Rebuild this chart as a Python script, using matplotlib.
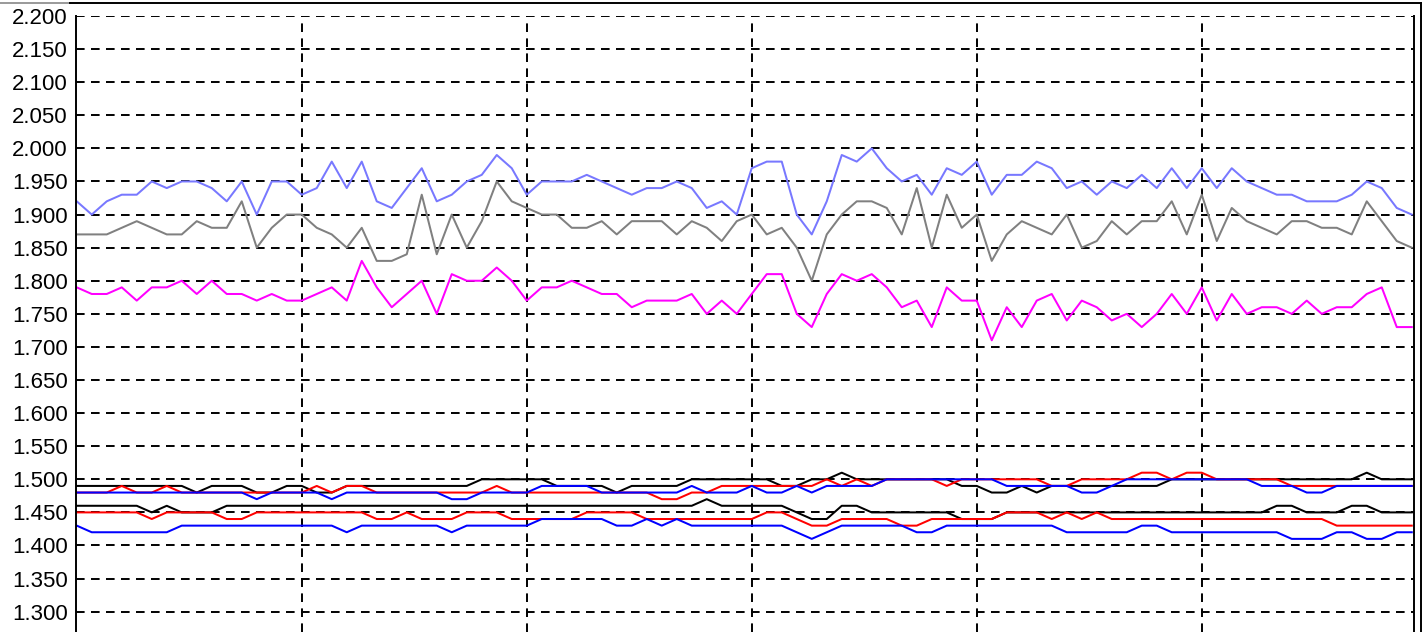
import numpy as np
import matplotlib
matplotlib.use('Agg')
import matplotlib.pyplot as plt
from matplotlib.lines import Line2D

plt.rcParams['font.family'] = ['Liberation Sans', 'DejaVu Sans']

# sample index
x = np.arange(90)

# upper group
light_blue = [1.92,1.90,1.92,1.93,1.93,1.95,1.94,1.95,1.95,1.94,
              1.92,1.95,1.90,1.95,1.95,1.93,1.94,1.98,1.94,1.98,
              1.92,1.91,1.94,1.97,1.92,1.93,1.95,1.96,1.99,1.97,
              1.93,1.95,1.95,1.95,1.96,1.95,1.94,1.93,1.94,1.94,
              1.95,1.94,1.91,1.92,1.90,1.97,1.98,1.98,1.90,1.87,
              1.92,1.99,1.98,2.00,1.97,1.95,1.96,1.93,1.97,1.96,
              1.98,1.93,1.96,1.96,1.98,1.97,1.94,1.95,1.93,1.95,
              1.94,1.96,1.94,1.97,1.94,1.97,1.94,1.97,1.95,1.94,
              1.93,1.93,1.92,1.92,1.92,1.93,1.95,1.94,1.91,1.90]
gray = [1.87,1.87,1.87,1.88,1.89,1.88,1.87,1.87,1.89,1.88,
        1.88,1.92,1.85,1.88,1.90,1.90,1.88,1.87,1.85,1.88,
        1.83,1.83,1.84,1.93,1.84,1.90,1.85,1.89,1.95,1.92,
        1.91,1.90,1.90,1.88,1.88,1.89,1.87,1.89,1.89,1.89,
        1.87,1.89,1.88,1.86,1.89,1.90,1.87,1.88,1.85,1.80,
        1.87,1.90,1.92,1.92,1.91,1.87,1.94,1.85,1.93,1.88,
        1.90,1.83,1.87,1.89,1.88,1.87,1.90,1.85,1.86,1.89,
        1.87,1.89,1.89,1.92,1.87,1.93,1.86,1.91,1.89,1.88,
        1.87,1.89,1.89,1.88,1.88,1.87,1.92,1.89,1.86,1.85]
magenta = [1.79,1.78,1.78,1.79,1.77,1.79,1.79,1.80,1.78,1.80,
           1.78,1.78,1.77,1.78,1.77,1.77,1.78,1.79,1.77,1.83,
           1.79,1.76,1.78,1.80,1.75,1.81,1.80,1.80,1.82,1.80,
           1.77,1.79,1.79,1.80,1.79,1.78,1.78,1.76,1.77,1.77,
           1.77,1.78,1.75,1.77,1.75,1.78,1.81,1.81,1.75,1.73,
           1.78,1.81,1.80,1.81,1.79,1.76,1.77,1.73,1.79,1.77,
           1.77,1.71,1.76,1.73,1.77,1.78,1.74,1.77,1.76,1.74,
           1.75,1.73,1.75,1.78,1.75,1.79,1.74,1.78,1.75,1.76,
           1.76,1.75,1.77,1.75,1.76,1.76,1.78,1.79,1.73,1.73]

# lower group, upper band
black_hi = [1.49,1.49,1.49,1.49,1.49,1.49,1.49,1.49,1.48,1.49,
            1.49,1.49,1.48,1.48,1.49,1.49,1.48,1.48,1.49,1.49,
            1.49,1.49,1.49,1.49,1.49,1.49,1.49,1.50,1.50,1.50,
            1.50,1.50,1.49,1.49,1.49,1.49,1.48,1.49,1.49,1.49,
            1.49,1.50,1.50,1.50,1.50,1.50,1.50,1.49,1.49,1.50,
            1.50,1.51,1.50,1.50,1.50,1.50,1.50,1.50,1.50,1.49,
            1.49,1.48,1.48,1.49,1.48,1.49,1.49,1.49,1.49,1.49,
            1.49,1.49,1.49,1.50,1.50,1.50,1.50,1.50,1.50,1.50,
            1.50,1.50,1.50,1.50,1.50,1.50,1.51,1.50,1.50,1.50]
red_hi = [1.48,1.48,1.48,1.49,1.48,1.48,1.49,1.48,1.48,1.48,
          1.48,1.48,1.48,1.48,1.48,1.48,1.49,1.48,1.49,1.49,
          1.48,1.48,1.48,1.48,1.48,1.48,1.48,1.48,1.49,1.48,
          1.48,1.48,1.48,1.48,1.48,1.48,1.48,1.48,1.48,1.47,
          1.47,1.48,1.48,1.49,1.49,1.49,1.49,1.49,1.49,1.49,
          1.50,1.49,1.50,1.49,1.50,1.50,1.50,1.50,1.49,1.50,
          1.50,1.50,1.50,1.50,1.50,1.49,1.49,1.50,1.50,1.50,
          1.50,1.51,1.51,1.50,1.51,1.51,1.50,1.50,1.50,1.50,
          1.50,1.49,1.49,1.49,1.49,1.49,1.49,1.49,1.49,1.49]
blue_hi = [1.48,1.48,1.48,1.48,1.48,1.48,1.48,1.48,1.48,1.48,
           1.48,1.48,1.47,1.48,1.48,1.48,1.48,1.47,1.48,1.48,
           1.48,1.48,1.48,1.48,1.48,1.47,1.47,1.48,1.48,1.48,
           1.48,1.49,1.49,1.49,1.49,1.48,1.48,1.48,1.48,1.48,
           1.48,1.49,1.48,1.48,1.48,1.49,1.48,1.48,1.49,1.48,
           1.49,1.49,1.49,1.49,1.50,1.50,1.50,1.50,1.50,1.50,
           1.50,1.50,1.49,1.49,1.49,1.49,1.49,1.48,1.48,1.49,
           1.50,1.50,1.50,1.50,1.50,1.50,1.50,1.50,1.50,1.49,
           1.49,1.49,1.48,1.48,1.49,1.49,1.49,1.49,1.49,1.49]

# lower group, lower band
black_lo = [1.46,1.46,1.46,1.46,1.46,1.45,1.46,1.45,1.45,1.45,
            1.46,1.46,1.46,1.46,1.46,1.46,1.46,1.46,1.46,1.46,
            1.46,1.46,1.46,1.46,1.46,1.46,1.46,1.46,1.46,1.46,
            1.46,1.46,1.46,1.46,1.46,1.46,1.46,1.46,1.46,1.46,
            1.46,1.46,1.47,1.46,1.46,1.46,1.46,1.46,1.45,1.44,
            1.44,1.46,1.46,1.45,1.45,1.45,1.45,1.45,1.45,1.44,
            1.44,1.44,1.45,1.45,1.45,1.45,1.45,1.45,1.45,1.45,
            1.45,1.45,1.45,1.45,1.45,1.45,1.45,1.45,1.45,1.45,
            1.46,1.46,1.45,1.45,1.45,1.46,1.46,1.45,1.45,1.45]
red_lo = [1.45,1.45,1.45,1.45,1.45,1.44,1.45,1.45,1.45,1.45,
          1.44,1.44,1.45,1.45,1.45,1.45,1.45,1.45,1.45,1.45,
          1.44,1.44,1.45,1.44,1.44,1.44,1.45,1.45,1.45,1.44,
          1.44,1.44,1.44,1.44,1.45,1.45,1.45,1.45,1.44,1.44,
          1.44,1.44,1.44,1.44,1.44,1.44,1.45,1.45,1.44,1.43,
          1.43,1.44,1.44,1.44,1.44,1.43,1.43,1.44,1.44,1.44,
          1.44,1.44,1.45,1.45,1.45,1.44,1.45,1.44,1.45,1.44,
          1.44,1.44,1.44,1.44,1.44,1.44,1.44,1.44,1.44,1.44,
          1.44,1.44,1.44,1.44,1.43,1.43,1.43,1.43,1.43,1.43]
blue_lo = [1.43,1.42,1.42,1.42,1.42,1.42,1.42,1.43,1.43,1.43,
           1.43,1.43,1.43,1.43,1.43,1.43,1.43,1.43,1.42,1.43,
           1.43,1.43,1.43,1.43,1.43,1.42,1.43,1.43,1.43,1.43,
           1.43,1.44,1.44,1.44,1.44,1.44,1.43,1.43,1.44,1.43,
           1.44,1.43,1.43,1.43,1.43,1.43,1.43,1.43,1.42,1.41,
           1.42,1.43,1.43,1.43,1.43,1.43,1.42,1.42,1.43,1.43,
           1.43,1.43,1.43,1.43,1.43,1.43,1.42,1.42,1.42,1.42,
           1.42,1.43,1.43,1.42,1.42,1.42,1.42,1.42,1.42,1.42,
           1.42,1.41,1.41,1.41,1.42,1.42,1.41,1.41,1.42,1.42]

y_ticks = np.arange(1.30, 2.2001, 0.05)
x_grid = [15, 30, 45, 60, 75]

fig = plt.figure(figsize=(14.24, 6.32), dpi=100)
ax = fig.add_axes([76/1424, 0, (1414-76)/1424, (632-16)/632])

lw = 1.45
ax.plot(x, black_hi, color='black', lw=lw)
ax.plot(x, black_lo, color='black', lw=lw)
ax.plot(x, red_hi, color='#ff0000', lw=lw)
ax.plot(x, red_lo, color='#ff0000', lw=lw)
ax.plot(x, blue_hi, color='#0000ff', lw=lw)
ax.plot(x, blue_lo, color='#0000ff', lw=lw)
ax.plot(x, gray, color='#808080', lw=lw)
ax.plot(x, light_blue, color='#7878ff', lw=lw)
ax.plot(x, magenta, color='#ff00ff', lw=lw)

ax.set_xlim(-0.05, 89.15)
ax.set_ylim(1.2693, 2.2)
ax.set_yticks(y_ticks)
ax.set_yticklabels(['%.3f' % v for v in y_ticks], fontsize=16)
ax.set_xticks(x_grid)
ax.set_xticklabels([])
ax.tick_params(length=0, pad=6)

gl = 1.4
ax.grid(True, color='black', lw=gl, linestyle=(0, (6.2/gl, 4.6/gl)))
ax.set_axisbelow(True)

ax.spines['top'].set_visible(False)
ax.spines['bottom'].set_visible(False)
for s in ['left', 'right']:
    ax.spines[s].set_linewidth(1.4)

# outer frame
fig.add_artist(Line2D([0, 70/1424], [1 - 2.5/632]*2, color='#999999', lw=1.4))
fig.add_artist(Line2D([70/1424, 1421/1424], [1 - 2.5/632]*2, color='black', lw=1.4))
fig.add_artist(Line2D([1421/1424]*2, [0, 1 - 2.5/632], color='black', lw=1.4))

fig.savefig('out.png', dpi=100)
